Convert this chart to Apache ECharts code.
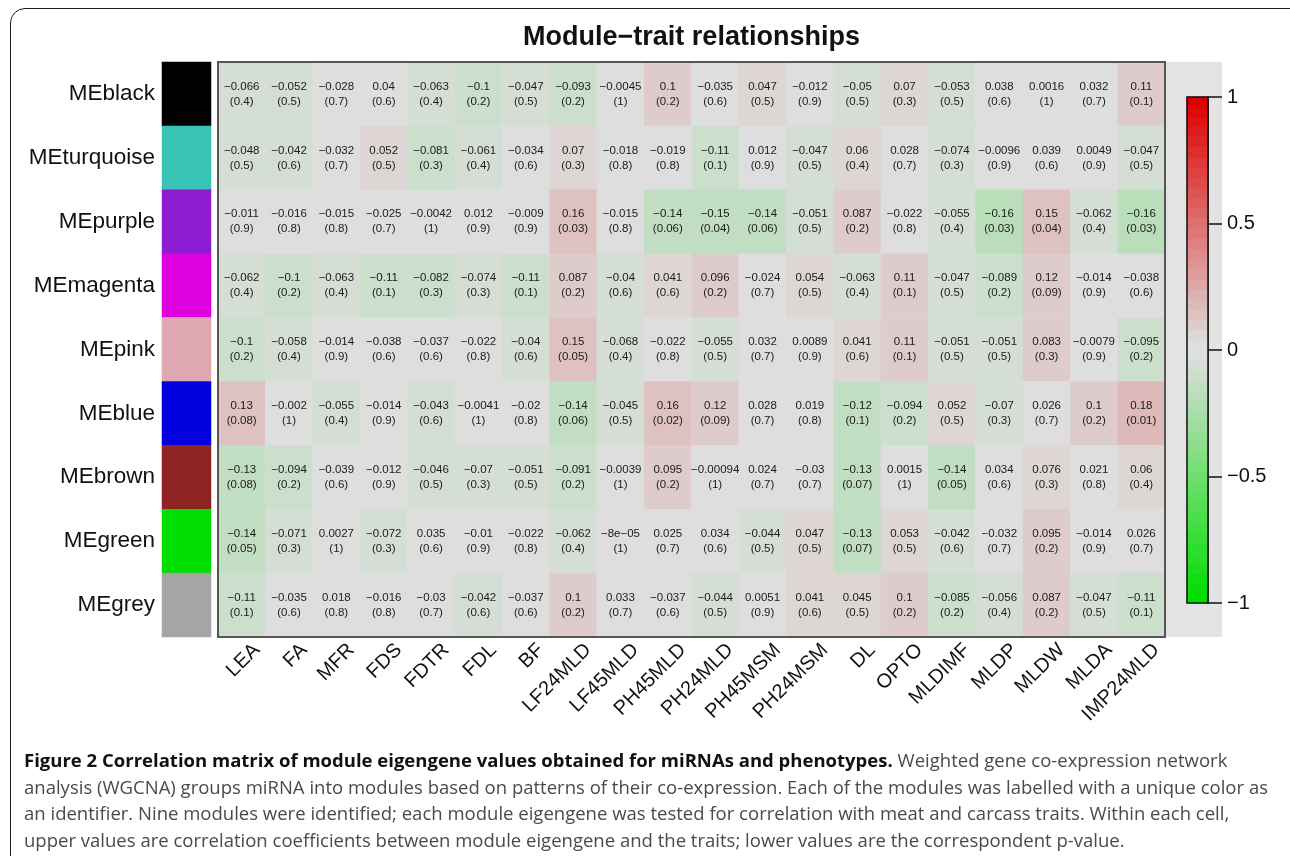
<!DOCTYPE html>
<html>
<head>
<meta charset="utf-8">
<title>Module-trait relationships</title>
<script src="https://cdn.jsdelivr.net/npm/echarts@6/dist/echarts.min.js"></script>
<style>
  html, body { margin: 0; padding: 0; background: #ffffff; }
  #wrap { position: relative; width: 1290px; height: 856px; overflow: hidden; background: #ffffff; }
  #chart { position: absolute; left: 0; top: 0; width: 1290px; height: 856px; }
  #frame { position: absolute; left: 10px; top: 8px; width: 1310px; height: 900px;
           border: 1.5px solid #1e1e1e; border-radius: 15px; box-sizing: border-box; pointer-events: none; }
  #caption { position: absolute; left: 24px; top: 747px; font-family: 'Open Sans', 'DejaVu Sans', sans-serif;
             font-size: 18px; line-height: 26.5px; color: #4a4a4a; white-space: nowrap; transform-origin: 0 0; }
  #caption b { color: #111111; font-weight: 700; }
</style>
</head>
<body>
<div id="wrap">
  <div id="chart"></div>
  <div id="frame"></div>
  <div id="caption">
    <div><b>Figure 2 Correlation matrix of module eigengene values obtained for miRNAs and phenotypes.</b> Weighted gene co-expression network</div>
    <div>analysis (WGCNA) groups miRNA into modules based on patterns of their co-expression. Each of the modules was labelled with a unique color as</div>
    <div>an identifier. Nine modules were identified; each module eigengene was tested for correlation with meat and carcass traits. Within each cell,</div>
    <div>upper values are correlation coefficients between module eigengene and the traits; lower values are the correspondent p-value.</div>
  </div>
</div>
<script>
// Traits (columns) and modules (rows)
const traits = ['LEA', 'FA', 'MFR', 'FDS', 'FDTR', 'FDL', 'BF', 'LF24MLD', 'LF45MLD', 'PH45MLD',
  'PH24MLD', 'PH45MSM', 'PH24MSM', 'DL', 'OPTO', 'MLDIMF', 'MLDP', 'MLDW', 'MLDA', 'IMP24MLD'];
const modules = ['MEblack', 'MEturquoise', 'MEpurple', 'MEmagenta', 'MEpink', 'MEblue', 'MEbrown', 'MEgreen', 'MEgrey'];
const moduleColors = ['#000000', '#38c3b5', '#8b1cd1', '#de00de', '#dea7b1', '#0000de', '#8f2424', '#00de00', '#a5a5a5'];

// Correlation coefficients per module
const rBlack     = [-0.066, -0.052, -0.028, 0.04, -0.063, -0.1, -0.047, -0.093, -0.0045, 0.1, -0.035, 0.047, -0.012, -0.05, 0.07, -0.053, 0.038, 0.0016, 0.032, 0.11];
const rTurquoise = [-0.048, -0.042, -0.032, 0.052, -0.081, -0.061, -0.034, 0.07, -0.018, -0.019, -0.11, 0.012, -0.047, 0.06, 0.028, -0.074, -0.0096, 0.039, 0.0049, -0.047];
const rPurple    = [-0.011, -0.016, -0.015, -0.025, -0.0042, 0.012, -0.009, 0.16, -0.015, -0.14, -0.15, -0.14, -0.051, 0.087, -0.022, -0.055, -0.16, 0.15, -0.062, -0.16];
const rMagenta   = [-0.062, -0.1, -0.063, -0.11, -0.082, -0.074, -0.11, 0.087, -0.04, 0.041, 0.096, -0.024, 0.054, -0.063, 0.11, -0.047, -0.089, 0.12, -0.014, -0.038];
const rPink      = [-0.1, -0.058, -0.014, -0.038, -0.037, -0.022, -0.04, 0.15, -0.068, -0.022, -0.055, 0.032, 0.0089, 0.041, 0.11, -0.051, -0.051, 0.083, -0.0079, -0.095];
const rBlue      = [0.13, -0.002, -0.055, -0.014, -0.043, -0.0041, -0.02, -0.14, -0.045, 0.16, 0.12, 0.028, 0.019, -0.12, -0.094, 0.052, -0.07, 0.026, 0.1, 0.18];
const rBrown     = [-0.13, -0.094, -0.039, -0.012, -0.046, -0.07, -0.051, -0.091, -0.0039, 0.095, -0.00094, 0.024, -0.03, -0.13, 0.0015, -0.14, 0.034, 0.076, 0.021, 0.06];
const rGreen     = [-0.14, -0.071, 0.0027, -0.072, 0.035, -0.01, -0.022, -0.062, -8e-05, 0.025, 0.034, -0.044, 0.047, -0.13, 0.053, -0.042, -0.032, 0.095, -0.014, 0.026];
const rGrey      = [-0.11, -0.035, 0.018, -0.016, -0.03, -0.042, -0.037, 0.1, 0.033, -0.037, -0.044, 0.0051, 0.041, 0.045, 0.1, -0.085, -0.056, 0.087, -0.047, -0.11];

// Matching p-values
const pBlack     = [0.4, 0.5, 0.7, 0.6, 0.4, 0.2, 0.5, 0.2, 1, 0.2, 0.6, 0.5, 0.9, 0.5, 0.3, 0.5, 0.6, 1, 0.7, 0.1];
const pTurquoise = [0.5, 0.6, 0.7, 0.5, 0.3, 0.4, 0.6, 0.3, 0.8, 0.8, 0.1, 0.9, 0.5, 0.4, 0.7, 0.3, 0.9, 0.6, 0.9, 0.5];
const pPurple    = [0.9, 0.8, 0.8, 0.7, 1, 0.9, 0.9, 0.03, 0.8, 0.06, 0.04, 0.06, 0.5, 0.2, 0.8, 0.4, 0.03, 0.04, 0.4, 0.03];
const pMagenta   = [0.4, 0.2, 0.4, 0.1, 0.3, 0.3, 0.1, 0.2, 0.6, 0.6, 0.2, 0.7, 0.5, 0.4, 0.1, 0.5, 0.2, 0.09, 0.9, 0.6];
const pPink      = [0.2, 0.4, 0.9, 0.6, 0.6, 0.8, 0.6, 0.05, 0.4, 0.8, 0.5, 0.7, 0.9, 0.6, 0.1, 0.5, 0.5, 0.3, 0.9, 0.2];
const pBlue      = [0.08, 1, 0.4, 0.9, 0.6, 1, 0.8, 0.06, 0.5, 0.02, 0.09, 0.7, 0.8, 0.1, 0.2, 0.5, 0.3, 0.7, 0.2, 0.01];
const pBrown     = [0.08, 0.2, 0.6, 0.9, 0.5, 0.3, 0.5, 0.2, 1, 0.2, 1, 0.7, 0.7, 0.07, 1, 0.05, 0.6, 0.3, 0.8, 0.4];
const pGreen     = [0.05, 0.3, 1, 0.3, 0.6, 0.9, 0.8, 0.4, 1, 0.7, 0.6, 0.5, 0.5, 0.07, 0.5, 0.6, 0.7, 0.2, 0.9, 0.7];
const pGrey      = [0.1, 0.6, 0.8, 0.8, 0.7, 0.6, 0.6, 0.2, 0.7, 0.6, 0.5, 0.9, 0.6, 0.5, 0.2, 0.2, 0.4, 0.2, 0.5, 0.1];

// Colour-key tick labels
const keyTicks = [-1, -0.5, 0, 0.5, 1];

const rRows = [rBlack, rTurquoise, rPurple, rMagenta, rPink, rBlue, rBrown, rGreen, rGrey];
const pRows = [pBlack, pTurquoise, pPurple, pMagenta, pPink, pBlue, pBrown, pGreen, pGrey];

// green - white - red palette with 50 steps (white shown as light grey)
const NCOL = 50, TOP = 222;
const palette = [];
for (let i = 0; i < NCOL / 2; i++) {
  const t = i / (NCOL / 2 - 1);
  const v = Math.round(t * TOP);
  palette.push('rgb(' + v + ',' + TOP + ',' + v + ')');
}
for (let j = 0; j < NCOL / 2; j++) {
  const s = 1 - j / (NCOL / 2 - 1);
  const v = Math.round(s * TOP);
  palette.push('rgb(' + TOP + ',' + v + ',' + v + ')');
}
const step = 2 / NCOL;
const bound = k => Math.round((-1 + step * k) * 1000) / 1000;
const pieces = palette.map((c, i) => i === 0
  ? { gte: -1, lte: bound(1), color: c }
  : { gt: bound(i), lte: bound(i + 1), color: c });

// number formatting in the style of R's print (true minus sign)
function fmtNum(v) {
  let s;
  if (v !== 0 && Math.abs(v) < 1e-4) {
    const e = v.toExponential();
    const m = e.match(/^(-?[\d.]+)e([+-])(\d+)$/);
    s = m[1] + 'e' + m[2] + (m[3].length < 2 ? '0' + m[3] : m[3]);
  } else {
    s = String(v);
  }
  return s.replace(/-/g, '\u2212');
}

const cellData = [];
rRows.forEach((row, r) => row.forEach((v, c) => cellData.push([c, r, v])));

const keyBins = palette.map((_, i) => String(i));
const keyData = palette.map((_, i) => [0, i, Math.round((bound(i) + step / 2) * 1000) / 1000]);
const moduleData = modules.map((_, i) => [0, i, i]);

const FONT = "'Liberation Sans', Arial, Helvetica, sans-serif";
const HM = { left: 218, top: 62, width: 947, height: 575 };
const LABEL_SHIFT = 15;   // trait labels sit slightly right of the column centres

const chart = echarts.init(document.getElementById('chart'), null, { renderer: 'canvas' });
chart.setOption({
  backgroundColor: 'transparent',
  animation: false,
  textStyle: { fontFamily: FONT },
  grid: [
    { left: HM.left, top: HM.top, width: HM.width, height: HM.height },
    { left: 162, top: HM.top, width: 49, height: HM.height },
    { left: 1187, top: 97, width: 21, height: 506 },
    { left: HM.left + LABEL_SHIFT, top: HM.top, width: HM.width, height: HM.height }
  ],
  xAxis: [
    { type: 'category', gridIndex: 0, data: traits, show: false },
    { type: 'category', gridIndex: 1, data: [''], show: false },
    { type: 'category', gridIndex: 2, data: [''], show: false },
    { type: 'category', gridIndex: 3, data: traits, position: 'bottom',
      axisLine: { show: false }, axisTick: { show: false }, splitLine: { show: false },
      axisLabel: { interval: 0, rotate: 45, margin: 10, fontSize: 20, color: '#111', fontFamily: FONT } }
  ],
  yAxis: [
    { type: 'category', gridIndex: 0, data: modules, inverse: true, show: false },
    { type: 'category', gridIndex: 1, data: modules, inverse: true,
      axisLine: { show: false }, axisTick: { show: false },
      axisLabel: { margin: 7, fontSize: 22.5, color: '#111', fontFamily: FONT } },
    { type: 'category', gridIndex: 2, data: keyBins, show: false },
    { type: 'value', gridIndex: 2, position: 'right', min: -1, max: 1, interval: 0.5,
      axisLine: { show: true, lineStyle: { color: '#111', width: 1.5 } },
      axisTick: { show: true, inside: false, length: 14, lineStyle: { color: '#111', width: 1.5 } },
      splitLine: { show: false },
      axisLabel: { margin: 19, fontSize: 20, color: '#111', fontFamily: FONT,
        formatter: v => keyTicks.indexOf(v) >= 0 ? String(v).replace('-', '\u2212') : '' } },
    { type: 'category', gridIndex: 3, data: modules, inverse: true, show: false }
  ],
  visualMap: [
    { type: 'piecewise', show: false, seriesIndex: [0, 1], dimension: 2, pieces: pieces },
    { type: 'piecewise', show: false, seriesIndex: [2], dimension: 2,
      pieces: moduleColors.map((c, i) => ({ value: i, color: c })) }
  ],
  graphic: [
    { type: 'rect', z: 0, silent: true,
      shape: { x: HM.left + HM.width, y: HM.top, width: 1222 - (HM.left + HM.width), height: HM.height },
      style: { fill: '#e3e3e3' } },
    { type: 'rect', z: 100, silent: true,
      shape: { x: HM.left, y: HM.top, width: HM.width, height: HM.height },
      style: { fill: null, stroke: '#555555', lineWidth: 2 } },
    { type: 'rect', z: 100, silent: true,
      shape: { x: 1187, y: 97, width: 21, height: 506 },
      style: { fill: null, stroke: '#111', lineWidth: 1.5 } },
    { type: 'text', z: 100, silent: true, x: HM.left + HM.width / 2, y: 38,
      style: { text: 'Module\u2212trait relationships', fill: '#111', font: "bold 27px " + FONT,
        textAlign: 'center', textVerticalAlign: 'middle' } }
  ],
  series: [
    { type: 'heatmap', xAxisIndex: 0, yAxisIndex: 0, data: cellData,
      label: { show: true, color: '#1a1a1a', fontSize: 11.5, lineHeight: 15, fontFamily: FONT,
        formatter: p => fmtNum(p.data[2]) + '\n(' + fmtNum(pRows[p.data[1]][p.data[0]]) + ')' },
      emphasis: { disabled: true } },
    { type: 'heatmap', xAxisIndex: 2, yAxisIndex: 2, data: keyData, emphasis: { disabled: true } },
    { type: 'heatmap', xAxisIndex: 1, yAxisIndex: 1, data: moduleData, emphasis: { disabled: true } }
  ]
});

// fit the caption block to the figure width
const cap = document.getElementById('caption');
const firstLine = cap.children[0];
const natural = firstLine.getBoundingClientRect().width;
const k = 1244 / natural;
cap.style.transform = 'scaleX(' + k + ')';
</script>
</body>
</html>
